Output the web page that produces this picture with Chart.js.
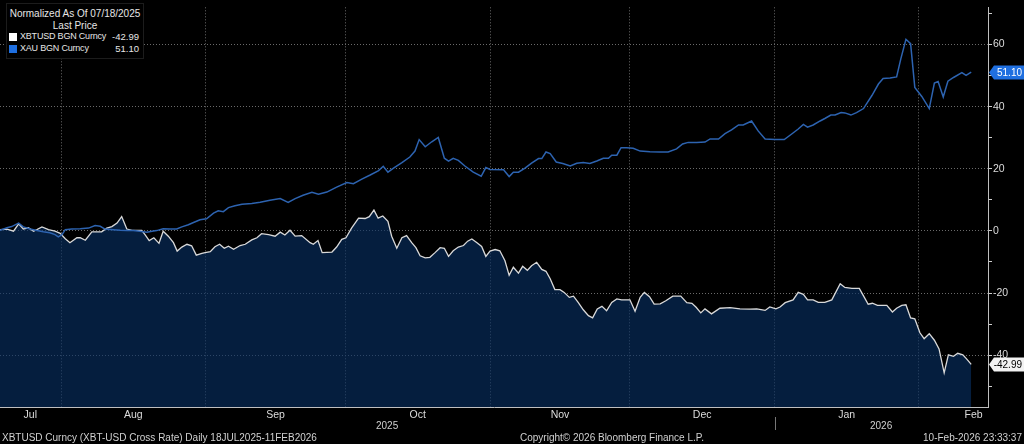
<!DOCTYPE html>
<html>
<head>
<meta charset="utf-8">
<script src="https://cdn.jsdelivr.net/npm/chart.js@4"></script>
<style>
  html, body { margin: 0; padding: 0; background: #000; }
  #wrap { position: relative; width: 1024px; height: 444px; background: #000; overflow: hidden;
          font-family: "Liberation Sans", Arial, sans-serif; color: #d8d8d8; }
  #chart { position: absolute; left: 0; top: 0; }
  .legend { position: absolute; left: 6px; top: 3px; width: 136px; height: 54px; background: #000;
            border: 1px solid #1c1c1c; font-size: 9px; line-height: 11.5px; color: #e6e6e6; }
  .legend .c { text-align: center; font-size: 10px; }
  .legend .row { position: relative; height: 11.5px; padding-left: 13px; letter-spacing: -0.2px; }
  .legend .sq { position: absolute; left: 2px; top: 2px; width: 8px; height: 8px; }
  .legend .val { position: absolute; right: 4px; top: 0; letter-spacing: 0; font-size: 9.5px; }
  .txt { position: absolute; font-size: 10px; color: #d0d0d0; white-space: nowrap; }
</style>
</head>
<body>
<div id="wrap">
  <canvas id="chart" width="1024" height="444"></canvas>
  <div class="legend">
    <div class="c" style="margin-top:4px;">Normalized As Of 07/18/2025</div>
    <div class="c">Last Price</div>
    <div class="row"><span class="sq" style="background:#ffffff"></span>XBTUSD BGN Curncy<span class="val">-42.99</span></div>
    <div class="row"><span class="sq" style="background:#1f6fe0"></span>XAU BGN Curncy<span class="val">51.10</span></div>
  </div>
  <div class="txt" style="left:376px; top:420px;">2025</div>
  <div class="txt" style="left:870px; top:420px;">2026</div>
  <div style="position:absolute; left:775px; top:417px; width:1px; height:13px; background:#777;"></div>
  <div class="txt" style="left:2px; top:432px;">XBTUSD Curncy (XBT-USD Cross Rate) Daily 18JUL2025-11FEB2026</div>
  <div class="txt" style="left:520px; top:432px;">Copyright© 2026 Bloomberg Finance L.P.</div>
  <div class="txt" style="right:2px; top:432px;">10-Feb-2026 23:33:37</div>
</div>
<script>
// days counted from 18 Jul 2025 (calendar days), values normalized to 0 at 07/18/2025
const xbtDays = [0.9,2.4,3.8,4.9,5.9,7.0,8.1,9.9,11.3,12.7,13.8,14.9,15.9,17.4,18.1,19.2,20.6,21.7,22.7,23.8,24.9,26.0,27.0,28.1,29.2,30.2,31.3,32.0,32.9,33.9,35.0,35.9,37.0,38.1,38.9,39.9,41.0,42.0,43.0,44.2,44.9,46.0,47.0,48.0,49.0,49.9,51.0,52.4,53.5,54.9,56.0,57.0,58.5,59.9,61.0,62.0,63.1,64.2,65.6,67.4,68.1,69.1,70.0,72.1,73.1,74.2,75.1,76.3,77.8,79.2,80.1,81.1,82.0,83.0,84.1,84.9,86.0,87.1,88.1,89.2,90.1,91.0,92.1,93.1,94.2,95.3,96.2,97.1,98.1,99.2,100.3,101.2,102.1,103.2,104.2,105.1,106.0,107.1,108.1,109.2,110.1,111.0,112.1,113.0,114.0,114.9,116.0,117.1,118.0,118.9,119.9,121.0,121.9,123.0,123.9,124.9,126.0,127.1,128.0,129.0,130.0,131.0,132.1,133.2,134.2,136.0,137.1,138.2,139.1,140.2,141.2,142.5,143.7,145.2,146.9,148.2,149.3,150.2,151.2,152.1,153.5,155.3,157.5,159.6,161.8,163.2,165.0,166.0,167.3,168.2,169.3,171.0,172.1,173.2,174.1,175.3,176.4,177.8,179.3,181.1,182.1,183.6,185.2,186.1,187.1,188.0,189.1,191.1,192.3,193.2,194.3,195.2,196.2,197.1,198.2,199.1,200.2,201.3,202.3,203.4,204.3,205.4,206.3,207.4,208.2,209.2];
const xbtValues = [0.4,0.6,-0.1,2.3,0.6,1.0,-0.1,1.3,0.4,-0.1,-0.8,-2.5,-3.8,-2.2,-2.2,-3.0,-0.3,-0.3,-0.3,0.9,1.4,2.5,4.6,0.6,0.2,0.2,0.2,-1.2,-3.1,-2.2,-4.0,-0.1,-1.7,-3.8,-6.5,-5.2,-4.3,-4.8,-7.8,-7.2,-7.0,-6.7,-5.1,-4.3,-5.6,-4.9,-5.9,-4.7,-4.3,-2.9,-2.2,-0.9,-1.2,-1.7,-0.4,-1.3,0.2,-1.7,-1.5,-3.8,-4.3,-3.1,-7.0,-6.8,-5.2,-2.7,-2.2,0.9,4.1,4.0,4.6,6.7,4.1,4.8,3.1,-1.7,-5.6,-2.2,-1.5,-3.8,-5.4,-8.0,-8.7,-8.5,-7.0,-5.4,-5.6,-8.2,-6.4,-5.2,-4.7,-3.3,-2.6,-3.8,-5.0,-8.2,-6.5,-6.0,-6.4,-9.6,-14.3,-11.7,-13.6,-11.4,-12.7,-11.2,-10.1,-12.4,-13.0,-15.4,-18.9,-18.9,-19.8,-21.4,-21.0,-23.0,-25.4,-27.3,-28.0,-25.1,-24.3,-25.7,-23.0,-21.9,-22.2,-22.2,-25.9,-21.4,-19.8,-21.2,-23.6,-23.5,-22.5,-21.0,-21.0,-23.1,-23.3,-24.6,-26.4,-25.1,-26.7,-24.9,-24.7,-25.1,-25.2,-25.1,-25.6,-24.5,-25.1,-24.5,-23.1,-22.2,-19.8,-20.4,-22.2,-22.2,-23.0,-23.0,-22.2,-17.0,-18.2,-18.5,-18.5,-20.9,-23.6,-23.3,-24.0,-24.0,-26.1,-24.9,-24.0,-23.8,-28.0,-28.3,-32.8,-34.7,-33.1,-35.2,-38.0,-45.7,-39.9,-40.4,-39.4,-39.9,-41.2,-42.99];

const xauDays = [0.9,2.4,3.4,4.9,5.9,7.4,8.8,10.2,11.6,12.7,13.4,14.2,14.9,16.3,18.1,19.9,21.3,22.4,23.4,25.2,26.7,28.1,29.5,30.9,32.4,33.5,34.5,35.9,37.4,38.8,39.9,41.3,42.4,43.8,45.2,46.7,47.7,48.8,49.9,51.3,52.8,54.9,56.7,58.8,61.0,62.7,64.2,65.9,67.8,69.2,71.0,73.1,75.3,76.7,78.5,80.3,82.1,83.1,84.1,85.3,87.1,88.8,89.9,90.8,92.1,93.5,94.9,96.2,97.1,98.1,99.2,100.6,102.4,104.1,105.1,106.0,108.9,110.1,111.0,112.1,113.5,114.9,116.4,117.1,118.0,118.9,120.2,121.6,123.2,124.6,126.0,127.4,128.9,130.3,131.4,132.1,133.2,134.1,135.3,136.7,138.2,140.3,142.5,144.2,146.0,147.3,148.5,150.3,152.1,153.2,155.0,156.4,157.8,159.3,160.3,162.1,163.5,165.0,167.1,169.1,170.7,172.1,173.2,174.1,175.3,176.8,177.8,179.1,180.0,181.3,182.1,183.4,184.6,186.1,187.9,189.3,190.3,191.8,193.2,194.1,195.2,196.2,197.1,198.6,200.2,201.3,202.1,203.2,204.2,205.4,207.2,208.1,209.2];
const xauValues = [0.2,1.0,1.4,2.5,1.3,0.6,0.1,-0.3,-0.6,-1.2,-1.9,-1.2,0.4,0.6,0.7,0.9,1.7,1.5,0.6,0.4,0.2,0.1,0.1,-0.1,-0.4,-0.1,0.1,0.7,0.6,0.6,1.3,2.0,2.7,3.6,3.9,5.7,6.5,6.2,7.5,8.1,8.6,8.8,9.2,9.9,10.4,9.2,10.4,11.5,12.4,11.8,12.5,14.1,15.6,15.2,16.7,18.0,19.4,20.8,18.9,20.2,22.0,23.8,25.7,29.4,27.1,28.7,30.1,23.4,22.5,23.4,22.7,20.9,18.9,17.6,20.4,19.8,19.7,17.5,18.9,18.9,20.2,21.8,23.3,23.3,25.4,24.9,22.2,21.7,20.9,21.8,22.0,21.7,22.5,23.4,23.4,24.4,24.4,26.8,26.8,26.6,25.7,25.5,25.4,25.4,26.4,28.0,28.5,28.5,28.6,29.6,29.6,31.3,32.5,34.1,34.1,35.4,32.2,29.6,29.4,29.4,31.2,32.8,34.3,33.4,34.1,35.4,36.2,37.3,37.3,38.1,38.0,37.3,38.1,39.4,43.6,47.3,49.1,49.2,49.6,55.4,61.7,60.3,46.2,43.3,39.4,47.6,48.1,43.1,48.2,49.4,51.0,50.1,51.1];

const monthLabels = ['Jul', 'Aug', 'Sep', 'Oct', 'Nov', 'Dec', 'Jan', 'Feb'];
const monthLabelDays = [7.4, 29.5, 60, 90.5, 121, 151.5, 182.5, 209.7];
const monthStartDays = [14, 45, 75, 106, 136, 167, 198];   // 1 Aug .. 1 Feb
const yTickValues = [-50, -40, -30, -20, -10, 0, 10, 20, 30, 40, 50, 60, 70];

const xbtLast = xbtValues[xbtValues.length - 1];
const xauLast = xauValues[xauValues.length - 1];

const toPoints = (days, vals) => days.map((d, i) => ({ x: d, y: vals[i] }));

// last price tags on the right axis
const lastTags = {
    id: 'lastTags',
    afterDraw(chart) {
        const ctx = chart.ctx;
        const y = chart.scales.y;
        const tags = [
            { v: xauLast, text: xauLast.toFixed(2), bg: '#1f6fe0', fg: '#ffffff' },
            { v: xbtLast, text: xbtLast.toFixed(2), bg: '#f2f2f2', fg: '#000000' }
        ];
        tags.forEach(t => {
            const py = Math.round(y.getPixelForValue(t.v)) + 0.5;
            const x0 = chart.chartArea.right + 1;
            ctx.save();
            ctx.fillStyle = t.bg;
            ctx.beginPath();
            ctx.moveTo(x0, py);
            ctx.lineTo(x0 + 5, py - 7);
            ctx.lineTo(1024, py - 7);
            ctx.lineTo(1024, py + 7);
            ctx.lineTo(x0 + 5, py + 7);
            ctx.closePath();
            ctx.fill();
            ctx.fillStyle = t.fg;
            ctx.font = '10px "Liberation Sans", Arial, sans-serif';
            ctx.textBaseline = 'middle';
            ctx.textAlign = 'right';
            ctx.fillText(t.text, 1022, py + 1);
            ctx.restore();
        });
    }
};

new Chart(document.getElementById('chart').getContext('2d'), {
    type: 'line',
    data: {
        datasets: [
            {
                label: 'XAU BGN Curncy',
                data: toPoints(xauDays, xauValues),
                borderColor: '#2d63b0',
                borderWidth: 1.5,
                pointRadius: 0,
                tension: 0,
                fill: false,
                order: 1
            },
            {
                label: 'XBTUSD BGN Curncy',
                data: toPoints(xbtDays, xbtValues),
                borderColor: '#d9d9d9',
                borderWidth: 1.3,
                backgroundColor: 'rgba(8, 48, 100, 0.62)',
                pointRadius: 0,
                tension: 0,
                fill: 'start',
                order: 2
            }
        ]
    },
    options: {
        responsive: false,
        animation: false,
        layout: { padding: 0 },
        plugins: { legend: { display: false }, tooltip: { enabled: false } },
        scales: {
            x: {
                type: 'linear',
                min: 0.9,
                max: 212.8,
                afterBuildTicks(scale) {
                    scale.ticks = monthStartDays.map(v => ({ value: v }))
                        .concat(monthLabelDays.map(v => ({ value: v })));
                },
                afterFit(scale) { scale.height = 37; },
                ticks: {
                    autoSkip: false,
                    maxRotation: 0,
                    padding: 2,
                    color: '#dcdcdc',
                    font: { family: '"Liberation Sans", Arial, sans-serif', size: 10.5 },
                    callback(value) {
                        const i = monthLabelDays.indexOf(value);
                        return i >= 0 ? monthLabels[i] : '';
                    }
                },
                grid: {
                    drawTicks: false,
                    color: ctx => (ctx.tick && monthStartDays.includes(ctx.tick.value)) ? '#6a6a6a' : 'rgba(0,0,0,0)',
                    lineWidth: 1
                },
                border: { display: true, color: '#bfbfbf', width: 1, dash: [1, 2] }
            },
            y: {
                position: 'right',
                min: -56.7,
                max: 72,
                afterBuildTicks(scale) {
                    scale.ticks = yTickValues.map(v => ({ value: v }));
                },
                afterFit(scale) { scale.width = 36; },
                ticks: {
                    padding: 1,
                    color: '#dcdcdc',
                    font: { family: '"Liberation Sans", Arial, sans-serif', size: 10.5 },
                    callback: v => (v % 20 === 0 ? String(v) : '')
                },
                grid: {
                    tickLength: 4,
                    tickColor: '#cfcfcf',
                    color: ctx => (ctx.tick && ctx.tick.value % 20 === 0) ? '#6a6a6a' : 'rgba(0,0,0,0)'
                },
                border: { display: true, color: '#bfbfbf', width: 1, dash: [1, 2] }
            }
        }
    },
    plugins: [lastTags]
});
</script>
</body>
</html>
